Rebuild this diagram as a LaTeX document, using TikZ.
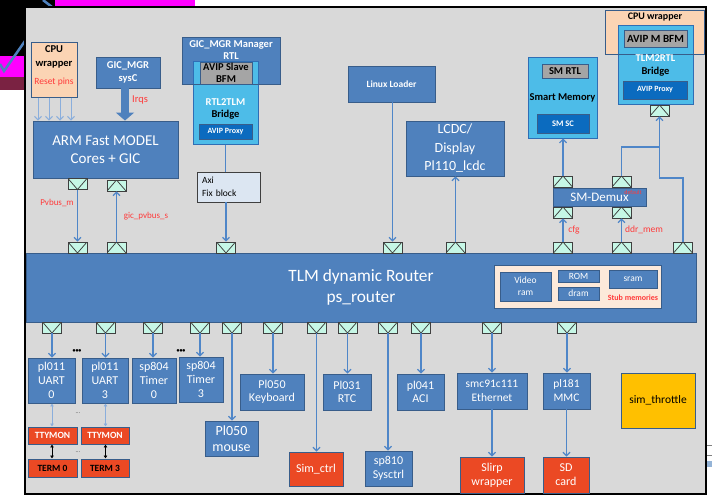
\documentclass[tikz,border=0pt]{standalone}
\usepackage{fontspec}
\setmainfont{Carlito}
\usetikzlibrary{arrows.meta,calc}

\definecolor{panel}{HTML}{D9D9D9}
\definecolor{boxblue}{HTML}{4F81BD}
\definecolor{edgeblue}{HTML}{385D8A}
\definecolor{brblue}{HTML}{4DBCE8}
\definecolor{bredge}{HTML}{2F6EB5}
\definecolor{proxy}{HTML}{0B6BBF}
\definecolor{bfmgray}{HTML}{A5A5A5}
\definecolor{peach}{HTML}{FBD4B4}
\definecolor{stubbg}{HTML}{FCE9DA}
\definecolor{redbox}{HTML}{EB4924}
\definecolor{orangebox}{HTML}{FFC000}
\definecolor{portfill}{HTML}{C6F7E6}
\definecolor{portedge}{HTML}{3F3F3F}
\definecolor{wire}{HTML}{4F86C8}
\definecolor{resetwire}{HTML}{8AAEDC}
\definecolor{lblred}{HTML}{FF3B3B}
\definecolor{magentaband}{HTML}{FF00FF}
\definecolor{wineband}{HTML}{7A2242}
\definecolor{axifill}{HTML}{DCE6F2}

\newcommand{\setfs}[2]{\fontsize{#1}{#2}\selectfont}

\begin{document}
\begin{tikzpicture}[x=1pt,y=-1pt,
  wh/.style 2 args={minimum width=#1pt, minimum height=#2pt},
  bx/.style={draw=edgeblue, line width=0.9pt, fill=boxblue, text=white,
    inner sep=0pt, align=center},
  redbx/.style={bx, fill=redbox},
  brbx/.style={draw=bredge, line width=1pt, fill=brblue, inner sep=0pt},
  graybx/.style={draw=edgeblue, line width=0.9pt, fill=bfmgray, text=black,
    inner sep=0pt, align=center, font=\bfseries\setfs{10.5}{12.5}},
  proxybx/.style={draw=edgeblue, line width=0.9pt, fill=proxy, text=white,
    inner sep=0pt, align=center},
  port/.style={draw=portedge, fill=portfill, line width=0.75pt,
    minimum width=19pt, minimum height=11pt, inner sep=0pt},
  pdn/.style={port, path picture={\draw[portedge, line width=0.75pt]
    (path picture bounding box.north west) -- (path picture bounding box.south)
    -- (path picture bounding box.north east);}},
  pup/.style={port, path picture={\draw[portedge, line width=0.75pt]
    (path picture bounding box.south west) -- (path picture bounding box.north)
    -- (path picture bounding box.south east);}},
  conn/.style={draw=wire, line width=1.2pt, -{Straight Barb[length=3.5pt,width=7pt]}},
  plain/.style={draw=wire, line width=1.2pt},
  resetarr/.style={draw=resetwire, line width=1pt, -{Straight Barb[length=3.5pt,width=7pt]}},
  dbl/.style={draw=resetwire, line width=1pt, {Latex[length=3pt,width=4pt]}-{Latex[length=3pt,width=4pt]}},
  dblk/.style={draw=black, line width=0.8pt, {Latex[length=3pt,width=4pt]}-{Latex[length=3pt,width=4pt]}},
  lbl/.style={text=lblred, inner sep=0pt, font=\setfs{9}{10}},
  dev/.style={bx, font=\setfs{12}{14}},
]
\useasboundingbox (0,0) rectangle (712,496);

% surroundings of the panel
\fill[white] (0,0) rectangle (712,496);
\fill[black] (0,0) rectangle (55,7);
\fill[black] (0,0) rectangle (25,56);
\fill[magentaband] (55,0) rectangle (195,7);
\fill[magentaband] (0,56) rectangle (25,77);
\fill[wineband] (0,77) rectangle (25,90);
\draw[boxblue, line width=2.5pt] (0,64) -- (4,71) -- (25,41);
\draw[boxblue, line width=2.5pt] (43,0) -- (52,7);
\draw[gray] (706,445) -- (712,445);
\draw[gray] (706,455) -- (712,455);
\fill[boxblue!60] (706,461) rectangle (712,467);

% panel
\draw[line width=2pt, fill=panel] (25,7) rectangle (706,494);

% ---------- top left: CPU wrapper, GIC manager, ARM model ----------
\node[draw=edgeblue, line width=1pt, fill=peach, wh={46}{55}] (cpuL) at (54,69.5) {};
\node[font=\bfseries\setfs{10.5}{14}, align=center, inner sep=0pt] (cpuLtx) at (54,56.5) {CPU\\wrapper};
\node[lbl, font=\setfs{9.5}{10}] (resetlbl) at (54,82) {Reset pins};

\node[bx, wh={64}{31}, font=\bfseries\setfs{10.5}{13}] (gic) at (128,72.5) {GIC\_MGR\\sysC};
\node[bx, wh={145}{57}, font=\setfs{15}{17.5}] (arm) at (105.5,149.5) {ARM Fast MODEL\\Cores + GIC};

\foreach \x in {38,49,60,71}
  \draw[resetarr] (cpuL.south -| \x,0) -- (arm.north -| \x,0);
\draw[boxblue, line width=8pt, -{Triangle[length=8pt,width=18pt]}]
  (gic.south -| 125,0) -- (arm.north -| 125,0);
\node[lbl, font=\setfs{10.5}{11}] (irqlbl) at (140,100) {Irqs};

\node[pdn] (armP1) at (77.5,184) {};
\node[pup] (armP2) at (116.5,185.5) {};

% ---------- GIC manager RTL and RTL2TLM bridge ----------
\node[bx, wh={98}{47}] (mgr) at (231,60.5) {};
\node[brbx, wh={65}{83}] (rbr) at (225.5,102.5) {};
\draw[edgeblue, line width=0.9pt] (mgr.south west) -- (mgr.south east);
\node[text=white, font=\bfseries\setfs{10.5}{12}, align=center, inner sep=0pt] (mgrtx) at (231,50) {GIC\_MGR Manager\\RTL};
\node[graybx, wh={52}{22}, font=\bfseries\setfs{10.5}{12}] (sbfm) at (226,73) {AVIP Slave\\BFM};
\node[font=\bfseries\setfs{10.5}{12.5}, align=center, inner sep=0pt] (rbrtx) at (225.5,109) {\textcolor{white}{RTL2TLM}\\Bridge};
\node[proxybx, wh={53}{15}, font=\bfseries\setfs{8}{9}] (rproxy) at (225.5,131.5) {AVIP Proxy};

\node[draw=portedge, line width=0.8pt, fill=axifill, wh={63}{30}, text width=53pt,
  inner sep=0pt, align=left, font=\setfs{9.5}{12.5}] (axi) at (228.5,187) {Axi\\Fix block};

% ---------- Linux loader and LCDC ----------
\node[bx, wh={87}{36}, font=\bfseries\setfs{9.5}{11}] (linux) at (391.5,84) {Linux Loader};
\node[bx, wh={98}{55}, font=\setfs{14}{18.5}] (lcdc) at (455,148.5) {LCDC/\\Display\\Pl110\_lcdc};

% ---------- right: smart memory, TLM2RTL bridge, demux ----------
\node[brbx, wh={69}{81}] (smem) at (562.5,97.5) {};
\node[graybx, wh={46}{14}, font=\bfseries\setfs{10.5}{11}] (smrtl) at (565,71) {SM RTL};
\node[font=\bfseries\setfs{10.5}{11}, inner sep=0pt] (smemtx) at (562.5,98) {Smart Memory};
\node[proxybx, wh={52}{19}, font=\bfseries\setfs{8.5}{9}] (smsc) at (563,123.5) {SM SC};

\node[fill=peach, wh={98}{43}, inner sep=0pt] (cpuR) at (655,32.5) {};
\node[brbx, wh={75}{79}] (tbr) at (655.5,64.5) {};
\draw[edgeblue, line width=1.3pt] (cpuR.north west) rectangle (cpuR.south east);
\node[font=\bfseries\setfs{10}{11}, inner sep=0pt] (cpuRtx) at (655,17) {CPU wrapper};
\node[graybx, wh={63}{17}, font=\bfseries\setfs{11}{12}] (mbfm) at (655.5,38.5) {AVIP M BFM};
\node[font=\bfseries\setfs{10.5}{13}, align=center, inner sep=0pt] (tbrtx) at (655.5,65.5) {\textcolor{white}{TLM2RTL}\\Bridge};
\node[proxybx, wh={64}{18}, font=\bfseries\setfs{8}{9}] (tproxy) at (655,90) {AVIP Proxy};
\node[pup] (tbP) at (659.5,110.5) {};

\node[bx, wh={93}{18}, font=\setfs{13}{15}] (demux) at (599.5,197) {SM-Demux};
\node[lbl, font=\setfs{6}{7}] (deflbl) at (633,192) {default};
\node[pup] (dP1) at (563,181.5) {};
\node[pup] (dP2) at (621.5,181.5) {};
\node[pup] (dP3) at (563,212.5) {};
\node[pup] (dP4) at (621.5,212.5) {};

\coordinate (jA) at (659.5,178);
\coordinate (jB) at (659.5,147);

% ---------- router ----------
\node[bx, wh={670}{69}, font=\setfs{17.3}{21}] (router) at (361,287.5) {TLM dynamic Router\\ps\_router};
\node[draw=edgeblue, line width=0.9pt, fill=stubbg, wh={167}{43}] (stub) at (577.5,286.5) {};
\node[bx, wh={51}{29}, font=\setfs{9.5}{12}] (vram) at (525.5,286.5) {Video\\ram};
\node[bx, wh={41}{12}, font=\setfs{9.5}{10}] (rom) at (578.5,276) {ROM};
\node[bx, wh={41}{13}, font=\setfs{9.5}{10}] (dram) at (578.5,293.5) {dram};
\node[bx, wh={48}{18}, font=\setfs{9.5}{10}] (sram) at (633,279) {sram};
\node[lbl, font=\bfseries\setfs{8}{9}] (stublbl) at (633,297.5) {Stub memories};

\node[pdn] (rP1) at (77.5,247.5) {};
\node[pup] (rP2) at (116.5,247.5) {};
\node[pdn] (rP3) at (226,247.5) {};
\node[pdn] (rP4) at (392.5,247.5) {};
\node[pup] (rP5) at (455.5,247.5) {};
\node[pup] (rP6) at (563,247.5) {};
\node[pup] (rP7) at (621.5,247.5) {};
\node[pup] (rP8) at (683,247.5) {};

% upper connectors
\draw[conn] (armP1.south) -- (rP1.north);
\draw[conn] (rP2.north) -- (armP2.south);
\node[lbl] (pvlbl) at (57,203) {Pvbus\_m};
\node[lbl] (giclbl) at (146,216) {gic\_pvbus\_s};
\draw[plain] (rbr.south) -- (rbr.south |- axi.north);
\draw[conn] (axi.south -| rP3) -- (rP3.north);
\draw[conn] (linux.south -| rP4) -- (rP4.north);
\draw[conn] (rP5.north) -- (rP5.north |- lcdc.south);
\draw[conn] (rP6.north) -- (dP3.south);
\draw[conn] (rP7.north) -- (dP4.south);
\node[lbl, font=\setfs{9.5}{10}] (cfglbl) at (574,230) {cfg};
\node[lbl, font=\setfs{9.5}{10}] (ddrlbl) at (644,230) {ddr\_mem};
\draw[conn] (dP1.north) -- (dP1.north |- smem.south);
\draw[plain] (dP2.north) |- (jB);
\draw[conn] (rP8.north) |- (jA) -- (tbP.south);

% ---------- lower ports ----------
\node[pdn] (bP1) at (52,327.5) {};
\node[pdn] (bP2) at (105.5,327.5) {};
\node[pdn] (bP3) at (153,327.5) {};
\node[pdn] (bP4) at (200,327.5) {};
\node[pdn] (bP5) at (232,327.5) {};
\node[pdn] (bP6) at (273,327.5) {};
\node[pdn] (bP7) at (316.5,327.5) {};
\node[pdn] (bP8) at (347.5,327.5) {};
\node[pdn] (bP9) at (388,327.5) {};
\node[pdn] (bP10) at (421,327.5) {};
\node[pdn] (bP11) at (492,327.5) {};
\node[pdn] (bP12) at (567,327.5) {};

% ---------- peripherals ----------
\node[dev, wh={47}{45}] (uart0) at (51.5,380.5) {pl011\\UART\\0};
\node[dev, wh={46}{45}] (uart3) at (105,380.5) {pl011\\UART\\3};
\node[dev, wh={44}{45}] (tim0) at (154,380.5) {sp804\\Timer\\0};
\node[dev, wh={44}{45}] (tim3) at (201,379.5) {sp804\\Timer\\3};
\node[inner sep=0pt, font=\bfseries\setfs{6}{7}] (dotsA) at (77,351) {•••};
\node[inner sep=0pt, font=\bfseries\setfs{6}{7}] (dotsB) at (181,351) {•••};
\node[bx, wh={53}{35}, font=\setfs{14}{16.5}] (mouse) at (231.5,438.5) {Pl050\\mouse};
\node[dev, wh={64}{36}, font=\setfs{12}{13.5}] (kbd) at (272,392) {Pl050\\Keyboard};
\node[dev, wh={48}{36}, font=\setfs{12}{13.5}] (rtc) at (347,392) {Pl031\\RTC};
\node[dev, wh={47}{36}, font=\setfs{12}{13.5}] (aci) at (420.5,392) {pl041\\ACI};
\node[redbx, wh={54}{34}, font=\setfs{12}{14}] (simctrl) at (316,469) {Sim\_ctrl};
\node[dev, wh={47}{35}, font=\setfs{12}{14}] (sysctrl) at (388.5,468.5) {sp810\\Sysctrl};
\node[dev, wh={70}{36}, font=\setfs{11.5}{14}] (eth) at (492,391) {smc91c111\\Ethernet};
\node[dev, wh={47}{36}, font=\setfs{11.5}{14}] (mmc) at (566.5,391) {pl181\\MMC};
\node[redbx, wh={64}{36}, font=\setfs{12}{14}] (slirp) at (492,475) {Slirp\\wrapper};
\node[redbx, wh={46}{36}, font=\setfs{12}{14}] (sdcard) at (566,475) {SD\\card};
\node[bx, fill=orangebox, text=black, wh={74}{55}, font=\setfs{11.5}{13}] (throttle) at (658,400.5) {sim\_throttle};

\node[redbx, wh={49}{17}, font=\bfseries\setfs{9.5}{10}] (tty0) at (52.5,435.5) {TTYMON};
\node[redbx, wh={48}{17}, font=\bfseries\setfs{9.5}{10}] (tty3) at (105,435.5) {TTYMON};
\node[redbx, text=black, wh={49}{18}, font=\bfseries\setfs{9.5}{10}] (term0) at (52.5,468) {TERM 0};
\node[redbx, text=black, wh={48}{18}, font=\bfseries\setfs{9.5}{10}] (term3) at (105,468) {TERM 3};
\node[inner sep=0pt, text=black!70, font=\setfs{6}{7}] (dotsC) at (78,413) {...};
\node[inner sep=0pt, text=black!70, font=\setfs{6}{7}] (dotsD) at (78,452) {...};

% lower connectors
\draw[conn] (bP1.south) -- (bP1.south |- uart0.north);
\draw[conn] (bP2.south) -- (bP2.south |- uart3.north);
\draw[conn] (bP3.south) -- (bP3.south |- tim0.north);
\draw[conn] (bP4.south) -- (bP4.south |- tim3.north);
\draw[conn] (bP5.south) -- (bP5.south |- mouse.north);
\draw[conn] (bP6.south) -- (bP6.south |- kbd.north);
\draw[conn] (bP7.south) -- (bP7.south |- simctrl.north);
\draw[conn] (bP8.south) -- (bP8.south |- rtc.north);
\draw[conn] (bP9.south) -- (bP9.south |- sysctrl.north);
\draw[conn] (bP10.south) -- (bP10.south |- aci.north);
\draw[conn] (bP11.south) -- (bP11.south |- eth.north);
\draw[conn] (bP12.south) -- (bP12.south |- mmc.north);
\draw[conn] (eth.south) -- (eth.south |- slirp.north);
\draw[conn] (mmc.south) -- (mmc.south |- sdcard.north);
\draw[dbl] (uart0.south -| 52,0) -- (tty0.north -| 52,0);
\draw[dbl] (uart3.south -| 105.5,0) -- (tty3.north -| 105.5,0);
\draw[dblk] (tty0.south -| 52,0) -- (term0.north -| 52,0);
\draw[dblk] (tty3.south -| 105.5,0) -- (term3.north -| 105.5,0);
\end{tikzpicture}
\end{document}
